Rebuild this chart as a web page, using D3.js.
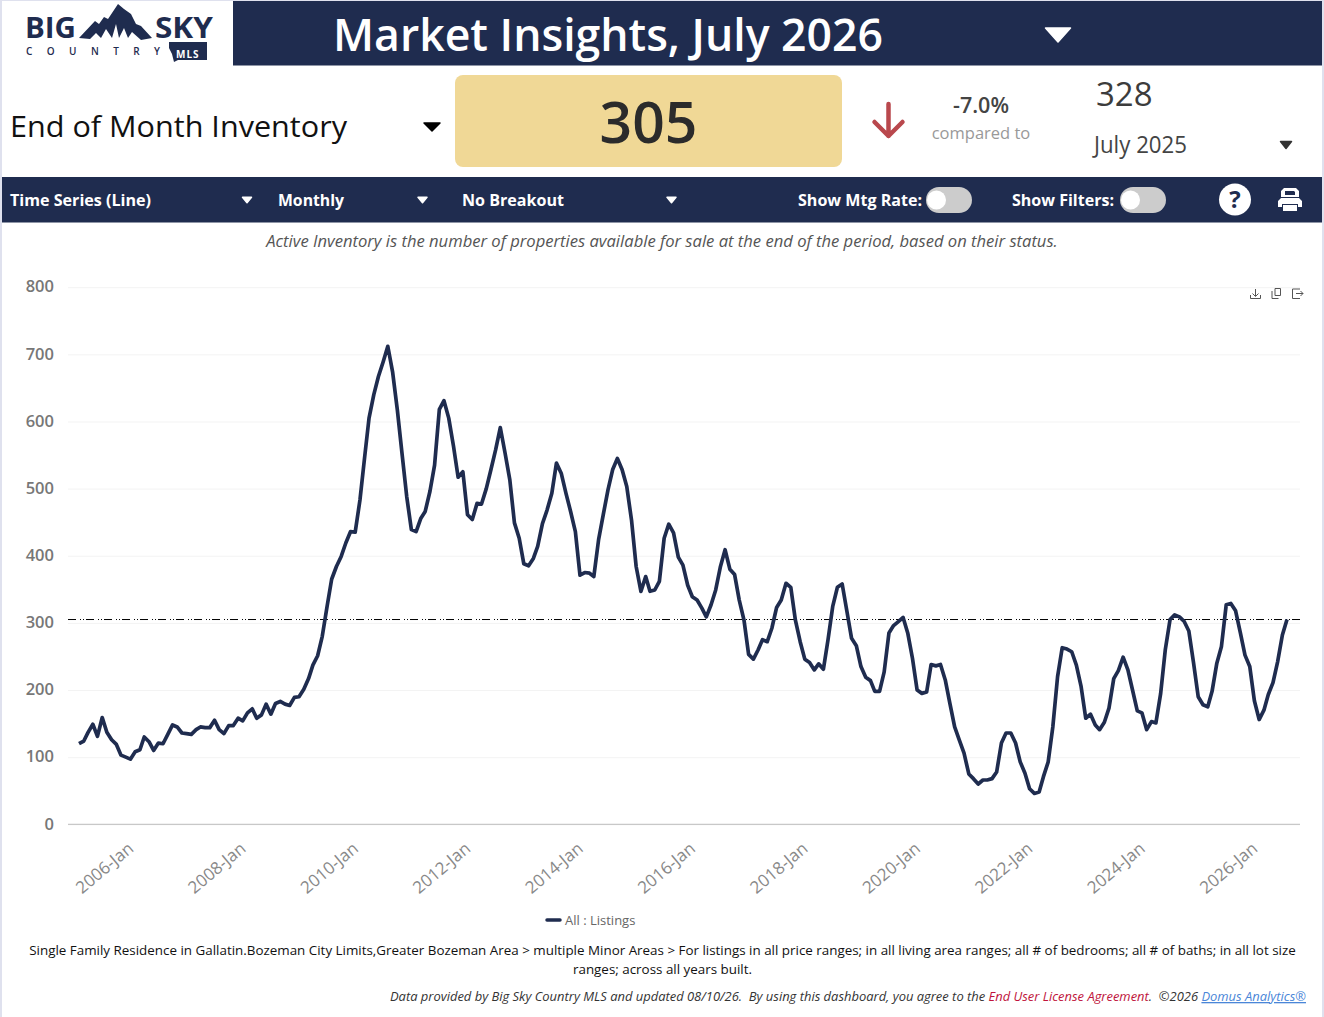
<!DOCTYPE html>
<html>
<head>
<meta charset="utf-8">
<script src="https://cdn.jsdelivr.net/npm/d3@7"></script>
<style>
  body { margin: 0; background: #fff; overflow: hidden; }
  text { font-family: "Open Sans", sans-serif; white-space: pre; }
</style>
</head>
<body>
<div id="page"></div>
<script>
// Chart data. Monthly, Jan 2005 to Jul 2026
const firstMonth = new Date(2005, 0, 1);
const lastMonth = new Date(2026, 6, 1);
const listings = [
  120,124,137,149,131,159,137,126,119,103,100,97,
  108,111,130,123,110,121,120,134,148,145,136,135,
  134,141,145,144,144,155,141,135,147,147,158,154,
  166,172,158,163,179,164,180,183,179,177,189,190,
  201,217,237,251,280,324,365,384,399,419,436,435,
  483,548,605,640,667,689,712,674,617,553,488,439,
  436,456,466,496,535,618,631,605,563,517,525,461,
  454,478,477,500,528,558,591,553,513,449,426,388,
  385,396,414,448,468,493,538,523,493,466,436,371,
  375,374,369,424,461,498,528,545,528,503,453,384,
  347,369,347,349,362,426,447,434,398,386,356,339,
  334,322,309,327,349,384,409,380,372,334,304,253,
  246,260,275,272,292,323,334,359,353,304,272,246,
  241,230,239,231,275,325,353,358,317,277,266,235,
  219,214,198,198,227,285,296,302,308,285,247,200,
  195,197,238,236,238,215,180,145,125,106,75,68,
  60,66,66,68,78,121,136,136,121,93,76,53,
  46,48,71,93,145,220,263,261,257,237,205,158,
  164,148,141,152,173,217,229,249,230,200,169,166,
  141,153,151,195,260,305,312,309,302,288,240,190,
  178,175,198,240,265,327,329,318,285,252,235,184,
  156,170,193,211,242,282,305
];
const yTicks = [0, 100, 200, 300, 400, 500, 600, 700, 800];
const xTickYears = [2006, 2008, 2010, 2012, 2014, 2016, 2018, 2020, 2022, 2024, 2026];
const currentValue = 305;
const compareValue = 328;
const legendLabel = "All : Listings";

const navy = "#1f2c4f";
const width = 1324, height = 1017;

const svg = d3.select("#page")
    .append("svg")
    .attr("width", width)
    .attr("height", height)
    .style("display", "block");

// Page edges
svg.append("rect").attr("x", 0).attr("y", 0).attr("width", 2).attr("height", height).attr("fill", "#dfe1ee");
svg.append("rect").attr("x", 1322).attr("y", 0).attr("width", 2).attr("height", height).attr("fill", "#dfe1ee");
svg.append("rect").attr("x", 0).attr("y", 0).attr("width", width).attr("height", 1).attr("fill", "#dfe1ee");

// Small helper for the dropdown triangles
function caret(cx, cy, w, h, fill) {
    svg.append("path")
        .attr("d", `M${cx - w / 2},${cy - h / 2}L${cx + w / 2},${cy - h / 2}L${cx},${cy + h / 2}Z`)
        .attr("fill", fill)
        .attr("stroke", fill)
        .attr("stroke-width", 1.5)
        .attr("stroke-linejoin", "round");
}

function label(x, y, str, size, fill, weight, anchor, italic) {
    return svg.append("text")
        .attr("x", x)
        .attr("y", y)
        .attr("text-anchor", anchor || "start")
        .attr("font-size", size + "px")
        .attr("font-weight", weight || 400)
        .attr("font-style", italic ? "italic" : "normal")
        .attr("fill", fill)
        .text(str);
}

// Title bar
svg.append("rect").attr("x", 233).attr("y", 1).attr("width", 1089).attr("height", 64.5).attr("fill", navy);
label(333, 51, "Market Insights, July 2026", 45, "#fff", 600).attr("textLength", 550).attr("lengthAdjust", "spacingAndGlyphs");
caret(1058, 35, 25, 14, "#fff");

// Logo
label(25, 38, "BIG", 28, navy, 700).attr("textLength", 51).attr("lengthAdjust", "spacingAndGlyphs");
label(155, 38, "SKY", 28, navy, 700).attr("textLength", 58).attr("lengthAdjust", "spacingAndGlyphs");
label(26, 55, "C O U N T R Y", 10, navy, 600).attr("textLength", 134);
svg.append("path")
    .attr("d", "M79,38L95,21L99,24L104,17L108,19L118,4L124,9L131,14L136,24L141,26L152,38L141,40L132,32L128,38L124,28L119,38L116,24L112,38L106,29L101,38L96,33L90,39Z")
    .attr("fill", navy);
svg.append("path")
    .attr("d", "M169,42L207,42L207,60L178,60L174,62L172,54L169,48Z")
    .attr("fill", navy);
label(176, 57.5, "MLS", 10, "#fff", 700).attr("letter-spacing", "1px");

// KPI row
label(10, 137, "End of Month Inventory", 30, "#111", 500).attr("textLength", 337).attr("lengthAdjust", "spacingAndGlyphs");
caret(432, 127, 16, 8, "#000");
svg.append("rect").attr("x", 455).attr("y", 75).attr("width", 387).attr("height", 92).attr("rx", 8).attr("fill", "#f0d896");
label(648.5, 143, currentValue, 57, "#2b2b2b", 600, "middle");
svg.append("path")
    .attr("d", "M888.5,104L888.5,136M874.5,122L888.5,136L902.5,122")
    .attr("fill", "none")
    .attr("stroke", "#b9484d")
    .attr("stroke-width", 4.5)
    .attr("stroke-linecap", "round")
    .attr("stroke-linejoin", "round");
label(981, 113, "-7.0%", 21.5, "#444", 600, "middle");
label(981, 139, "compared to", 16.5, "#999", 400, "middle");
label(1096, 106, compareValue, 33, "#3c3c3c", 500);
label(1094, 153, "July 2025", 23, "#444", 400).attr("textLength", 93).attr("lengthAdjust", "spacingAndGlyphs");
caret(1286, 145, 11, 7, "#333");

// Toolbar
svg.append("rect").attr("x", 2).attr("y", 177).attr("width", 1320).attr("height", 45.5).attr("fill", navy);
label(10, 206, "Time Series (Line)", 16.5, "#fff", 700).attr("textLength", 141).attr("lengthAdjust", "spacingAndGlyphs");
caret(247, 200, 9, 5.5, "#fff");
label(278, 206, "Monthly", 16.5, "#fff", 700).attr("textLength", 66).attr("lengthAdjust", "spacingAndGlyphs");
caret(422.5, 200, 9, 5.5, "#fff");
label(462, 206, "No Breakout", 16.5, "#fff", 700).attr("textLength", 102).attr("lengthAdjust", "spacingAndGlyphs");
caret(671.5, 200, 9, 5.5, "#fff");
label(798, 206, "Show Mtg Rate:", 16.5, "#fff", 700).attr("textLength", 124).attr("lengthAdjust", "spacingAndGlyphs");
label(1012, 206, "Show Filters:", 16.5, "#fff", 700).attr("textLength", 102).attr("lengthAdjust", "spacingAndGlyphs");

// Toggles, both off
[926, 1120].forEach(x => {
    svg.append("rect").attr("x", x).attr("y", 187).attr("width", 46).attr("height", 26).attr("rx", 13).attr("fill", "#ccc");
    svg.append("circle").attr("cx", x + 10.5).attr("cy", 200).attr("r", 9.5).attr("fill", "#fff");
});

// Help and print buttons
svg.append("circle").attr("cx", 1235).attr("cy", 199.5).attr("r", 16).attr("fill", "#fff");
label(1235, 208, "?", 24, navy, 700, "middle");
svg.append("path")
    .attr("fill", "#fff")
    .attr("fill-rule", "evenodd")
    .attr("d", "M1284,188L1296,188L1299,191L1299,197L1281,197L1281,191ZM1285,191L1285,195L1295,195L1295,192L1294,191ZM1281,198L1299,198L1302,201L1302,207L1298,207L1298,204L1282,204L1282,207L1278,207L1278,201ZM1283,205L1297,205L1297,211L1283,211Z");

// Description under the toolbar
label(662, 247, "Active Inventory is the number of properties available for sale at the end of the period, based on their status.", 16.6, "#555", 400, "middle", true);

// Scales
const x = d3.scaleTime()
    .domain([firstMonth, lastMonth])
    .range([79, 1287]);
const y = d3.scaleLinear()
    .domain([0, 800])
    .range([824.3, 287.2]);
const months = d3.timeMonth.range(firstMonth, d3.timeMonth.offset(lastMonth, 1));

// Y axis with the gridlines
const yAxis = svg.append("g")
    .attr("transform", "translate(68,0)")
    .call(d3.axisLeft(y).tickValues(yTicks).tickSize(-1232).tickPadding(14));
yAxis.select(".domain").remove();
yAxis.selectAll("line").attr("stroke", "#f3f3f3");
yAxis.selectAll("text")
    .attr("font-family", "'Open Sans', sans-serif")
    .attr("font-size", "16.5px")
    .attr("font-weight", 600)
    .attr("fill", "#777")
    .attr("y", -0.5);

// X axis
const xAxis = svg.append("g")
    .attr("transform", "translate(0,824.3)")
    .call(d3.axisBottom(x)
        .tickValues(xTickYears.map(yr => new Date(yr, 0, 1)))
        .tickSize(0)
        .tickFormat(d3.timeFormat("%Y-%b")));
xAxis.select(".domain").remove();
xAxis.selectAll("text")
    .attr("font-family", "'Open Sans', sans-serif")
    .attr("font-size", "17px")
    .attr("fill", "#888")
    .attr("text-anchor", "end")
    .attr("dx", "0")
    .attr("dy", "0")
    .attr("y", 26)
    .attr("x", -1)
    .attr("transform", "rotate(-40 -1 26)");
svg.append("line")
    .attr("x1", 68).attr("x2", 1300)
    .attr("y1", y(0)).attr("y2", y(0))
    .attr("stroke", "#c8c8c8")
    .attr("stroke-width", 1.2);

// Current value reference line
svg.append("line")
    .attr("x1", 68).attr("x2", 1300)
    .attr("y1", y(currentValue)).attr("y2", y(currentValue))
    .attr("stroke", "#000")
    .attr("stroke-width", 1)
    .attr("stroke-dasharray", "8,4,1,2,1,2");

// The line itself
const line = d3.line()
    .x((d, i) => x(months[i]))
    .y(d => y(d));
svg.append("path")
    .datum(listings)
    .attr("d", line)
    .attr("fill", "none")
    .attr("stroke", navy)
    .attr("stroke-width", 3.7)
    .attr("stroke-linejoin", "round");

// Toolbox icons at the top right of the chart
const toolbox = svg.append("g")
    .attr("fill", "none")
    .attr("stroke", "#555")
    .attr("stroke-width", 1);
toolbox.append("path").attr("d", "M1255.5,289L1255.5,296M1252.5,293.5L1255.5,296.5L1258.5,293.5M1250.5,295L1250.5,298.5L1260.5,298.5L1260.5,295");
toolbox.append("path").attr("d", "M1272,291L1272,298.5L1278.5,298.5M1275,288.5L1280.5,288.5L1280.5,295.5L1275,295.5Z");
toolbox.append("path").attr("d", "M1300,289L1292.5,289L1292.5,298.5L1300,298.5M1296,293.5L1303,293.5M1300.5,291L1303,293.5L1300.5,296");

// Legend
svg.append("line")
    .attr("x1", 547).attr("x2", 560)
    .attr("y1", 920).attr("y2", 920)
    .attr("stroke", navy)
    .attr("stroke-width", 3.5)
    .attr("stroke-linecap", "round");
label(565, 925, legendLabel, 13, "#666");

// Footer text
label(662.5, 955, "Single Family Residence in Gallatin.Bozeman City Limits,Greater Bozeman Area > multiple Minor Areas > For listings in all price ranges; in all living area ranges; all # of bedrooms; all # of baths; in all lot size", 13.4, "#111", 500, "middle");
label(662.5, 974, "ranges; across all years built.", 13.4, "#111", 500, "middle");

const credit = label(1306, 1001, "", 12.95, "#333", 400, "end", true);
credit.append("tspan").text("Data provided by Big Sky Country MLS and updated 08/10/26.  By using this dashboard, you agree to the ");
credit.append("tspan").attr("fill", "#c0143c").text("End User License Agreement");
credit.append("tspan").text(".  ©2026 ");
credit.append("tspan").attr("fill", "#4a86d8").attr("text-decoration", "underline").text("Domus Analytics®");
</script>
</body>
</html>
